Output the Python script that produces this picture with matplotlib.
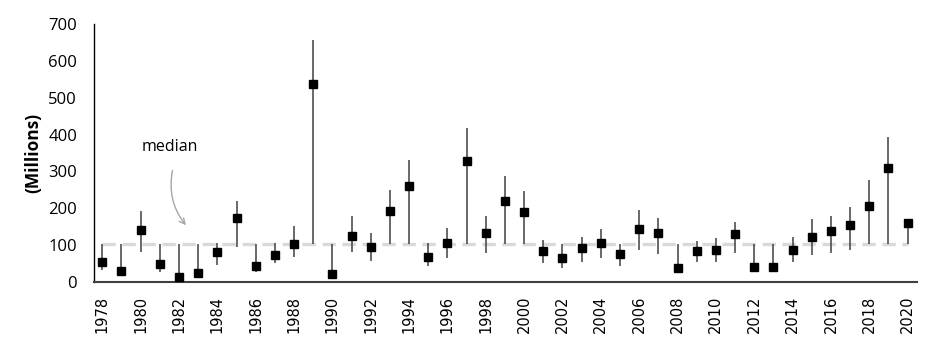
import matplotlib
matplotlib.use("Agg")
import matplotlib.pyplot as plt
import numpy as np

years = list(range(1978, 2021))
values = [55, 31, 141, 50, 14, 23, 80, 173, 42, 74, 104,
          537, 22, 125, 95, 193, 259, 69, 107, 328, 132, 220,
          191, 85, 64, 91, 107, 75, 145, 132, 39, 85, 88,
          130, 40, 40, 88, 123, 138, 154, 206, 310, 161]
lows = [33, 19, 80, 28, 10, 18, 46, 96, 28, 51, 67,
        104, 12, 80, 58, 104, 104, 42, 66, 104, 78, 104,
        104, 51, 37, 53, 64, 43, 87, 75, 30, 53, 55,
        78, 30, 30, 53, 73, 78, 87, 104, 104, 104]
highs = [104, 104, 192, 104, 104, 104, 106, 220, 104, 106, 152,
         656, 104, 179, 132, 250, 331, 105, 147, 417, 179, 288,
         248, 113, 104, 121, 144, 104, 195, 173, 104, 110, 118,
         162, 104, 104, 121, 170, 179, 203, 277, 393, 161]
median = 104
xtick_years = list(range(1978, 2021, 2))
yticks = [0, 100, 200, 300, 400, 500, 600, 700]

fig = plt.figure(figsize=(9.34, 3.52), dpi=100)
ax = fig.add_axes([0.1003, 0.199, 0.8817, 0.733])

v = np.array(values)
yerr = [v - np.array(lows), np.array(highs) - v]

ax.plot([years[0], years[-1]], [median, median], color="#d9d9d9", lw=2.4,
        dashes=(4, 2), zorder=1)
ax.errorbar(years, values, yerr=yerr, fmt="s", color="black", ms=6,
            ecolor="#404040", elinewidth=1.1, capsize=0, zorder=3)

ax.set_xlim(1977.55, 2020.5)
ax.set_ylim(0, 700)
ax.set_yticks(yticks)
ax.set_yticklabels([str(t) for t in yticks], fontfamily="Open Sans", fontsize=12)
ax.set_xticks(xtick_years)
ax.set_xticklabels([str(t) for t in xtick_years], rotation=90,
                   fontfamily="DejaVu Sans", fontsize=10.5)
ax.tick_params(axis="both", length=0)
ax.tick_params(axis="y", pad=12)
ax.tick_params(axis="x", pad=10)

for s in ["top", "right"]:
    ax.spines[s].set_visible(False)
ax.spines["left"].set_color("black")
ax.spines["bottom"].set_color("#404040")
ax.spines["left"].set_linewidth(1.0)
ax.spines["bottom"].set_linewidth(1.5)

ax.set_ylabel("(Millions)", fontfamily="Open Sans", fontweight="bold",
              fontsize=12.5, labelpad=4)

ax.text(1981.5, 365, "median", fontfamily="Open Sans", fontsize=11.5,
        ha="center", va="center")
ax.annotate("", xy=(1982.45, 148), xytext=(1981.69, 310),
            arrowprops=dict(arrowstyle="->", color="#a6a6a6", lw=1.0,
                            connectionstyle="arc3,rad=0.25"))

fig.savefig("out.png", dpi=100)
